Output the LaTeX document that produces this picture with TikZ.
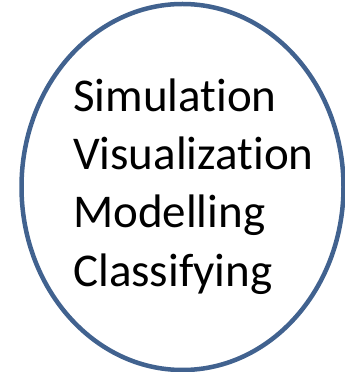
\documentclass[tikz,border=0pt]{standalone}
\usepackage{fontspec}
\setmainfont{Carlito}[Ligatures=NoCommon]
\usetikzlibrary{shapes.geometric}
\definecolor{rimblue}{HTML}{41628F}
\tikzset{
    rim/.style={ellipse, draw=rimblue, line width=4.5pt, fill=white, inner sep=0pt,
        minimum width=322pt, minimum height=366pt},
    word/.style={anchor=base west, inner sep=0pt, font=\fontsize{47}{58}\selectfont}
}
\begin{document}
\begin{tikzpicture}[x=1pt,y=1pt]
        \useasboundingbox (0,0) rectangle (345,372);
        \node[rim] (circ) at (182.5,185){};
        \node[word] (sim) at (73,260){Simulation};
        \node[word] (vis) at (73,202){Visualization};
        \node[word] (mod) at (73,144){Modelling};
        \node[word] (cla) at (73,85){Classifying};
    \end{tikzpicture}
\end{document}
